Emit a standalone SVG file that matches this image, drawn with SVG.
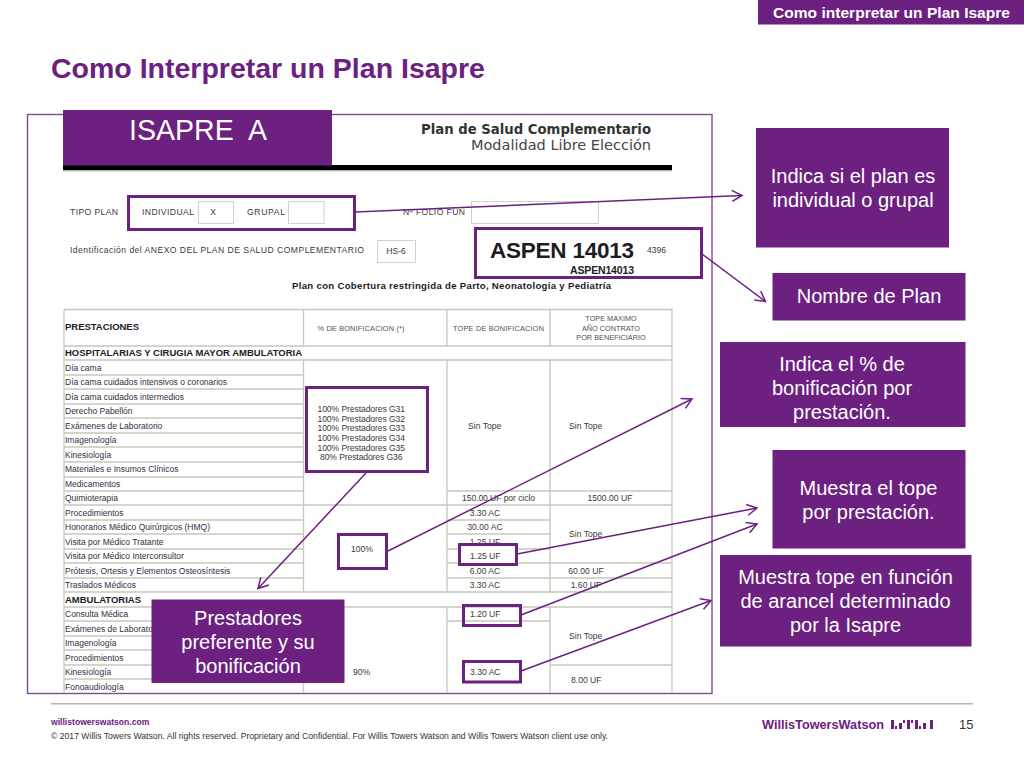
<svg xmlns="http://www.w3.org/2000/svg" width="1024" height="768" viewBox="0 0 1024 768">
<style>
text{font-family:"Liberation Sans",Arial,sans-serif}
.box{fill:#6c2080;stroke:#6c2080;stroke-width:1}
.call{fill:#fff;font-size:20px;text-anchor:middle}
.hl{fill:none;stroke:#6c2080;stroke-width:3}
.grid{fill:none;stroke:#c9c7bb;stroke-width:1.3}
.cell{fill:none;stroke:#d2d0c8;stroke-width:1}
.t{fill:#3a3a3a;font-size:8.6px}
.m{text-anchor:middle}
.r{fill:#303040;font-size:8.5px}
.h{fill:#505050;font-size:7.3px;text-anchor:middle}
.b{fill:#1c1c24;font-weight:bold}
.conn{fill:none;stroke:#6c2080;stroke-width:1.5}
</style>
<defs>
<marker id="arrow" markerUnits="userSpaceOnUse" markerWidth="16" markerHeight="16" refX="12" refY="8" orient="auto">
<path d="M2 2.5L12 8L2 13.5" fill="none" stroke="#6c2080" stroke-width="1.5"/>
</marker>
</defs>
<rect width="1024" height="768" fill="#fff"/>

<g id="header-tab"><rect x="758" y="0" width="266" height="24.500" fill="#6c2080"/>
<text x="773" y="18" font-size="14.500" font-weight="bold" fill="#fff" textLength="237" lengthAdjust="spacingAndGlyphs">Como interpretar un Plan Isapre</text></g>
<text id="title" x="51" y="78" font-size="28.500" font-weight="bold" fill="#6c2080">Como Interpretar un Plan Isapre</text>

<g id="document">
<rect x="27.500" y="114.500" width="684.500" height="579" fill="#fff" stroke="#7d4f90" stroke-width="1.400"/>
<text x="421" y="134" style="font-family:'DejaVu Sans',sans-serif" font-size="14" font-weight="bold" fill="#333" textLength="230" lengthAdjust="spacingAndGlyphs">Plan de Salud Complementario</text>
<text x="471" y="150" style="font-family:'DejaVu Sans',sans-serif" font-size="14" fill="#444" textLength="180" lengthAdjust="spacingAndGlyphs">Modalidad Libre Elección</text>
<rect x="63" y="170" width="609" height="1.500" fill="#bbb"/>
<rect x="63" y="165" width="609" height="5" fill="#000"/>

<text class="t" x="70" y="215" textLength="48">TIPO PLAN</text>
<text class="t" x="142" y="215" textLength="52">INDIVIDUAL</text>
<rect class="cell" x="198.500" y="201.500" width="35" height="22"/>
<text class="t m" x="213" y="215">X</text>
<text class="t" x="247" y="215" textLength="38">GRUPAL</text>
<rect class="cell" x="288.500" y="201.500" width="35.500" height="22"/>
<text class="t" x="403" y="215" textLength="62">Nº FOLIO FUN</text>
<rect class="cell" x="471.500" y="201.500" width="127" height="22"/>
<text class="t" x="70" y="253" textLength="294">Identificación del ANEXO DEL PLAN DE SALUD COMPLEMENTARIO</text>
<rect class="cell" x="377.500" y="240.500" width="38" height="22"/>
<text class="t m" x="396" y="254">HS-6</text>
<text class="b" x="490" y="258" font-size="22.500" textLength="144">ASPEN 14013</text>
<text class="t" x="647" y="253" font-size="8">4396</text>
<text class="b" x="570" y="274" font-size="10.500" textLength="64">ASPEN14013</text>
<text class="b" x="292" y="289" font-size="9.600" textLength="319">Plan con Cobertura restringida de Parto, Neonatología y Pediatría</text>

<path class="grid" d="M64 309.500H672V693M64 309.500V693M303.500 309.500V346M447 309.500V346M550 309.500V346M64 346H672M64 360H672M303.500 360V592M447 360V592M550 360V592M303.500 607V693M447 607V693M550 607V693M64 375H303.500M64 389H303.500M64 404H303.500M64 418H303.500M64 433H303.500M64 447H303.500M64 462H303.500M64 477H303.500M64 491H303.500M447 491H672M64 505H672M64 520H303.500M447 520H550M64 534H303.500M447 534H550M64 549H303.500M447 549H550M64 563H303.500M447 563H672M64 578H303.500M447 578H672M64 592H672M64 607H672M64 621H303.500M447 621H550M64 636H303.500M64 650H303.500M64 665H303.500M550 665H672M64 679H303.500"/>

<text class="b" x="65" y="330" font-size="9.500" textLength="74">PRESTACIONES</text>
<text class="h" x="361" y="331" textLength="87">% DE BONIFICACION (*)</text>
<text class="h" x="498.500" y="331" textLength="91">TOPE DE BONIFICACION</text>
<text class="h" x="611" y="321">TOPE MAXIMO</text>
<text class="h" x="611" y="331">AÑO CONTRATO</text>
<text class="h" x="611" y="340">POR BENEFICIARIO</text>
<text class="b" x="65" y="356" font-size="9.500" textLength="237">HOSPITALARIAS Y CIRUGIA MAYOR AMBULATORIA</text>

<text class="r" x="65" y="371">Día cama</text>
<text class="r" x="65" y="385" textLength="162">Día cama cuidados intensivos o coronarios</text>
<text class="r" x="65" y="400">Día cama cuidados intermedios</text>
<text class="r" x="65" y="414">Derecho Pabellón</text>
<text class="r" x="65" y="429">Exámenes de Laboratorio</text>
<text class="r" x="65" y="443">Imagenología</text>
<text class="r" x="65" y="458">Kinesiología</text>
<text class="r" x="65" y="472">Materiales e Insumos Clínicos</text>
<text class="r" x="65" y="487">Medicamentos</text>
<text class="r" x="65" y="501">Quimioterapia</text>
<text class="r" x="65" y="516">Procedimientos</text>
<text class="r" x="65" y="530">Honorarios Médico Quirúrgicos (HMQ)</text>
<text class="r" x="65" y="545">Visita por Médico Tratante</text>
<text class="r" x="65" y="559">Visita por Médico Interconsultor</text>
<text class="r" x="65" y="574">Prótesis, Ortesis y Elementos Osteosíntesis</text>
<text class="r" x="65" y="588">Traslados Médicos</text>
<text class="b" x="65" y="603" font-size="9.500" textLength="76">AMBULATORIAS</text>
<text class="r" x="65" y="617">Consulta Médica</text>
<text class="r" x="65" y="632">Exámenes de Laboratorio</text>
<text class="r" x="65" y="646">Imagenología</text>
<text class="r" x="65" y="661">Procedimientos</text>
<text class="r" x="65" y="675">Kinesiología</text>
<text class="r" x="65" y="690">Fonoaudiología</text>

<text class="t" x="317.500" y="412" textLength="87.500">100% Prestadores G31</text>
<text class="t" x="317.500" y="421.500" textLength="87.500">100% Prestadores G32</text>
<text class="t" x="317.500" y="431" textLength="87.500">100% Prestadores G33</text>
<text class="t" x="317.500" y="441" textLength="87.500">100% Prestadores G34</text>
<text class="t" x="317.500" y="450.500" textLength="87.500">100% Prestadores G35</text>
<text class="t" x="320" y="460" textLength="82.500">80% Prestadores G36</text>
<text class="t" x="351" y="552">100%</text>
<text class="t" x="353" y="675">90%</text>
<text class="t" x="468" y="429">Sin Tope</text>
<text class="t" x="569" y="429">Sin Tope</text>
<text class="t" x="462" y="501" textLength="73">150.00 UF por ciclo</text>
<text class="t m" x="610" y="501">1500.00 UF</text>
<text class="t m" x="485" y="516">3.30 AC</text>
<text class="t m" x="485" y="530">30.00 AC</text>
<text class="t m" x="485" y="545">1.25 UF</text>
<text class="t" x="569" y="537">Sin Tope</text>
<text class="t m" x="485" y="574">6.00 AC</text>
<text class="t m" x="485" y="588">3.30 AC</text>
<text class="t m" x="586" y="574">60.00 UF</text>
<text class="t m" x="586" y="588">1.60 UF</text>
<text class="t" x="569" y="639">Sin Tope</text>
<text class="t" x="571" y="683">8.00 UF</text>
</g>

<g id="highlight-tipo-plan"><rect class="hl" x="128.500" y="196.500" width="226" height="33"/></g>
<g id="highlight-aspen"><rect class="hl" x="475.500" y="228.500" width="226" height="49"/></g>
<g id="highlight-prestadores"><rect class="hl" x="306.500" y="387.500" width="121" height="84"/></g>
<g id="highlight-100"><rect class="hl" x="338.500" y="534.500" width="48" height="34"/></g>
<g id="highlight-125"><rect x="459.500" y="544.500" width="57" height="20" fill="#fff"/><rect class="hl" x="459.500" y="544.500" width="57" height="20"/>
<text class="t" x="470" y="559">1.25 UF</text></g>
<g id="highlight-120"><rect class="hl" x="463.500" y="605.500" width="57" height="20"/><text class="t" x="470" y="617">1.20 UF</text></g>
<g id="highlight-330"><rect class="hl" x="463.500" y="661.500" width="57" height="20.500"/><text class="t" x="470" y="675">3.30 AC</text></g>

<g id="connectors">
<path class="conn" marker-end="url(#arrow)" d="M355 212L742 195.500"/>
<path class="conn" marker-end="url(#arrow)" d="M702 254L765.500 301.500"/>
<path class="conn" marker-end="url(#arrow)" d="M388 551L692 399"/>
<path class="conn" marker-end="url(#arrow)" d="M517 554L757 508"/>
<path class="conn" marker-end="url(#arrow)" d="M521 615L757 524"/>
<path class="conn" marker-end="url(#arrow)" d="M521 671L711 600.500"/>
<path class="conn" marker-end="url(#arrow)" d="M366 473L258 588.500"/>
</g>

<g id="isapre-a"><rect class="box" x="63.500" y="110.500" width="268" height="54.500"/>
<text x="129" y="140" font-size="30" fill="#fff" xml:space="preserve" textLength="138" lengthAdjust="spacingAndGlyphs">ISAPRE  A</text></g>
<g id="callout-tipo"><rect class="box" x="756.500" y="128.500" width="192" height="118.500"/>
<text class="call" x="853" y="183">Indica si el plan es</text><text class="call" x="853" y="207">individual o grupal</text></g>
<g id="callout-nombre"><rect class="box" x="773" y="273.500" width="192" height="46.500"/>
<text class="call" x="869" y="303">Nombre de Plan</text></g>
<g id="callout-bonificacion"><rect class="box" x="720.500" y="342.500" width="244.500" height="84"/>
<text class="call" x="842" y="370.500">Indica el % de</text><text class="call" x="842" y="394.500">bonificación por</text><text class="call" x="842" y="418.500">prestación.</text></g>
<g id="callout-tope"><rect class="box" x="773" y="450.500" width="192" height="97.500"/>
<text class="call" x="868.500" y="495">Muestra el tope</text><text class="call" x="868.500" y="518.500">por prestación.</text></g>
<g id="callout-arancel"><rect class="box" x="720.500" y="555.500" width="250.500" height="90.500"/>
<text class="call" x="845.500" y="584">Muestra tope en función</text><text class="call" x="845.500" y="608">de arancel determinado</text><text class="call" x="845.500" y="632">por la Isapre</text></g>
<g id="callout-prestadores"><rect class="box" x="152" y="600" width="192" height="82.500"/>
<text class="call" x="248" y="625">Prestadores</text><text class="call" x="248" y="649">preferente y su</text><text class="call" x="248" y="673">bonificación</text></g>

<g id="footer">
<rect x="51" y="703" width="922" height="1.500" fill="#b5b5b5"/>
<text x="51" y="725" font-size="8.600" font-weight="bold" fill="#6c2080">willistowerswatson.com</text>
<text x="51" y="739" font-size="8.800" fill="#333" textLength="557" lengthAdjust="spacingAndGlyphs">© 2017 Willis Towers Watson. All rights reserved. Proprietary and Confidential. For Willis Towers Watson and Willis Towers Watson client use only.</text>
<text x="762" y="729" font-size="13.500" font-weight="bold" fill="#6c2080" textLength="122" lengthAdjust="spacingAndGlyphs">WillisTowersWatson</text>
<path fill="#6c2080" d="M891 720h3v9h-3zM895 726h2v3h-2zM899 723h3v6h-3zM903 720h2v3h-2zM907 720h3v9h-3zM911 720h2v3h-2zM915 720h3v9h-3zM919 726h2v3h-2zM923 723h3v6h-3zM930 720h3v9h-3z"/>
<text x="959" y="729" font-size="13" fill="#333">15</text>
</g>
</svg>
